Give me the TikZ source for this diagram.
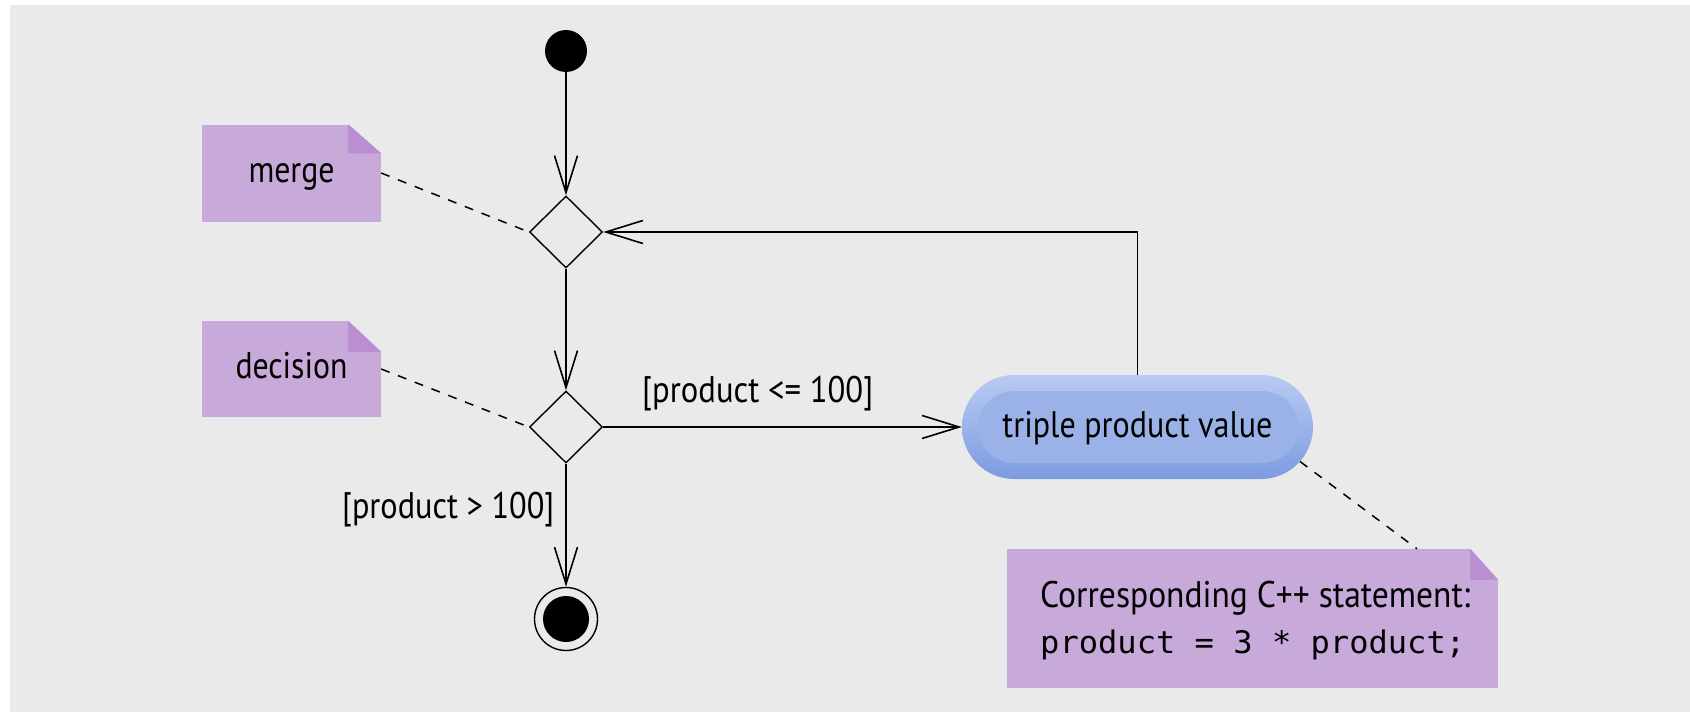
\documentclass[tikz,border=0pt]{standalone}
\usepackage{fontspec}
\usepackage{graphicx}
\setmainfont{PT Sans}
\setmonofont{DejaVu Sans Mono}
\usetikzlibrary{arrows.meta,shapes.geometric,shapes.misc}

\definecolor{canvas}{HTML}{EAEAEA}
\definecolor{notefill}{HTML}{C7A9DA}
\definecolor{notefold}{HTML}{B98FD2}
\definecolor{acttop}{HTML}{B9CBF3}
\definecolor{actbot}{HTML}{7C9BDF}
\definecolor{actin}{HTML}{9BB2E8}

% squeeze a text horizontally to a given width, keeping its height
\newcommand\fitw[2]{\resizebox{#1}{\height}{#2}}
% folded corner of a note: node name, fold width, fold height
\newcommand\notefoldcorner[3]{%
  \fill[canvas] ([xshift=-#2]#1.north east) -- (#1.north east) -- ([yshift=-#3]#1.north east) -- cycle;
  \fill[notefold] ([xshift=-#2]#1.north east) -- ([xshift=-#2,yshift=-#3]#1.north east) -- ([yshift=-#3]#1.north east) -- cycle;}

\tikzset{
  txt/.style={font=\fontsize{37}{44}\selectfont, inner sep=0pt},
  codetxt/.style={font=\ttfamily\fontsize{31}{37}\selectfont, inner sep=0pt},
  flow/.style={line width=1.6pt, -{Straight Barb[length=37pt,width=23pt]}},
  notelink/.style={line width=1.5pt, dash pattern=on 9pt off 9pt},
  umlnote/.style={txt, fill=notefill, minimum width=179pt, minimum height=97pt,
    text height=30pt, text depth=12pt},
  branch/.style={diamond, draw, line width=1.4pt, inner sep=0pt,
    minimum width=73pt, minimum height=72pt},
  initial/.style={circle, fill=black, inner sep=0pt, minimum size=42pt},
  final/.style={circle, draw, line width=1.4pt, inner sep=0pt, minimum size=63pt,
    path picture={\fill[black] (path picture bounding box.center) circle (23pt);}},
  activity/.style={rounded rectangle, txt, inner sep=0pt,
    minimum width=351pt, minimum height=104pt, top color=acttop, bottom color=actbot,
    text height=30pt, text depth=10pt,
    path picture={\fill[actin, rounded corners=36pt]
      ([xshift=16pt,yshift=-16pt]path picture bounding box.north west) rectangle
      ([xshift=-15pt,yshift=16pt]path picture bounding box.south east);}},
}

\begin{document}
\begin{tikzpicture}[x=1pt, y=-1pt]
  \useasboundingbox (0,0) rectangle (1690,712);
  \fill[white] (0,0) rectangle (1690,712);
  \fill[canvas] (10,5) rectangle (1690,712);

  % activity nodes
  \node[initial] (start) at (566,51) {};
  \node[branch] (merge) at (566,232) {};
  \node[branch] (decision) at (566,427) {};
  \node[final] (end) at (566,619) {};
  \node[activity] (triple) at (1137.5,427) {\fitw{270pt}{triple product value}};

  % notes
  \node[umlnote] (mergenote) at (291.5,173) {\fitw{86pt}{merge}};
  \notefoldcorner{mergenote}{33pt}{29pt}
  \node[umlnote, minimum height=96pt] (decisionnote) at (291.5,369) {\fitw{112pt}{decision}};
  \notefoldcorner{decisionnote}{33pt}{31pt}
  \node[fill=notefill, inner sep=0pt, minimum width=491pt, minimum height=139pt] (codenote) at (1252.5,618.5) {};
  \notefoldcorner{codenote}{28pt}{31pt}
  \node[txt, anchor=base west] (codecaption) at (1040,607) {\fitw{430pt}{Corresponding C++ statement:}};
  \node[codetxt, anchor=base west] (codeline) at (1040,653) {\fitw{425pt}{product = 3 * product;}};

  % control flow
  \draw[flow] (start) -- (merge);
  \draw[flow] (merge) -- (decision);
  \draw[flow] (decision) -- (end);
  \draw[flow] (decision.east) -- (decision.east -| triple.west);
  \draw[flow] (triple.north) |- (merge.east);

  % guards
  \node[txt, anchor=base west] (guardloop) at (642,402) {\fitw{231pt}{[product <= 100]}};
  \node[txt, anchor=base west] (guardexit) at (342,518) {\fitw{212pt}{[product > 100]}};

  % note anchors
  \draw[notelink] (mergenote.east) -- (merge.west);
  \draw[notelink] (decisionnote.east) -- (decision.west);
  \draw[notelink] (triple.-12) -- ([xshift=164.5pt]codenote.north);
\end{tikzpicture}
\end{document}
